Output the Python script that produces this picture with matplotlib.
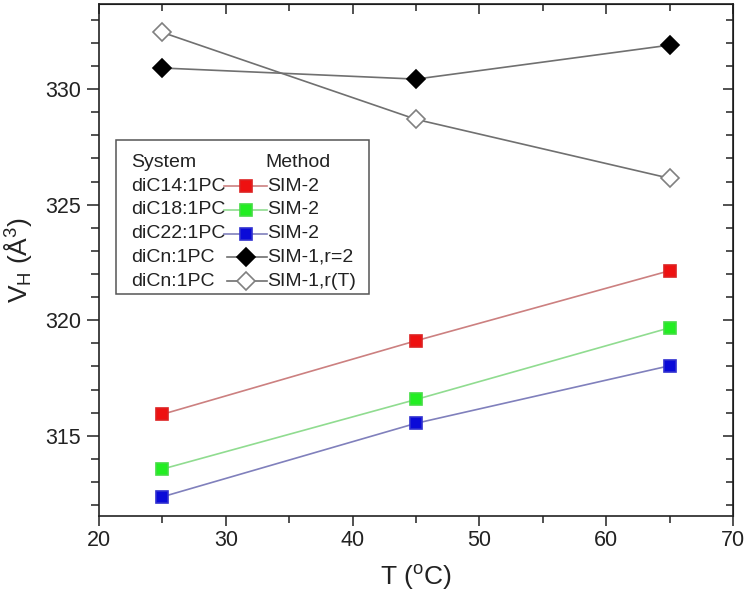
import numpy as np
import matplotlib
matplotlib.use("Agg")
import matplotlib.pyplot as plt
from matplotlib.lines import Line2D
from matplotlib.patches import Rectangle
from matplotlib.ticker import MultipleLocator

# Data
temperature = [25, 45, 65]
systems = ["diC14:1PC", "diC18:1PC", "diC22:1PC", "diCn:1PC", "diCn:1PC"]
methods = ["SIM-2", "SIM-2", "SIM-2", "SIM-1,r=2", "SIM-1,r(T)"]
vh_dic14 = [315.93, 319.11, 322.14]
vh_dic18 = [313.56, 316.57, 319.67]
vh_dic22 = [312.36, 315.54, 318.03]
vh_sim1_r2 = [330.91, 330.43, 331.90]
vh_sim1_rT = [332.45, 328.69, 326.14]

# Styles per series (marker, marker face, marker edge, line colour, size)
styles = [
    dict(marker="s", mfc="#ee1111", mec="#dd2222", color="#cc8080", ms=8),
    dict(marker="s", mfc="#22ee22", mec="#44dd44", color="#90dc90", ms=8),
    dict(marker="s", mfc="#0a0ad8", mec="#3030d0", color="#8080bc", ms=8),
    dict(marker="D", mfc="black", mec="black", color="#707070", ms=9),
    dict(marker="D", mfc="white", mec="#808080", color="#707070", ms=9),
]
series = [vh_dic14, vh_dic18, vh_dic22, vh_sim1_r2, vh_sim1_rT]

plt.rcParams["font.family"] = ["Liberation Sans", "DejaVu Sans"]
plt.rcParams["mathtext.fontset"] = "custom"
plt.rcParams["mathtext.rm"] = "Liberation Sans"
plt.rcParams["mathtext.it"] = "Liberation Sans:italic"

fig = plt.figure(figsize=(7.5, 6.04), dpi=100)
ax = fig.add_axes([0.132, 0.1457, 0.8453, 0.8477])

for vals, st in zip(series, styles):
    ax.plot(temperature, vals, marker=st["marker"], markerfacecolor=st["mfc"],
            markeredgecolor=st["mec"], color=st["color"], markersize=st["ms"],
            linewidth=1.2, markeredgewidth=1.2)

ax.set_xlim(20, 70)
ax.set_ylim(311.53, 333.68)
ax.xaxis.set_major_locator(MultipleLocator(10))
ax.xaxis.set_minor_locator(MultipleLocator(5))
ax.yaxis.set_major_locator(MultipleLocator(5))
ax.yaxis.set_minor_locator(MultipleLocator(1))
ax.tick_params(which="both", direction="out", width=1.1, labelsize=15.5,
               colors="#222222")
ax.tick_params(axis="x", which="major", length=7.5, pad=2.5)
ax.tick_params(axis="x", which="minor", length=5)
ax.tick_params(axis="y", which="major", length=9, pad=4)
ax.tick_params(axis="y", which="minor", length=5.5)
for sp in ax.spines.values():
    sp.set_linewidth(1.2)
    sp.set_color("#222222")

# mirrored ticks on top and right pointing inward
top = ax.secondary_xaxis("top")
top.xaxis.set_major_locator(MultipleLocator(10))
top.xaxis.set_minor_locator(MultipleLocator(5))
top.tick_params(which="both", direction="in", labeltop=False, width=1.1,
                colors="#222222")
top.tick_params(which="major", length=7)
top.tick_params(which="minor", length=5)
right = ax.secondary_yaxis("right")
right.yaxis.set_major_locator(MultipleLocator(5))
right.yaxis.set_minor_locator(MultipleLocator(1))
right.tick_params(which="both", direction="in", labelright=False, width=1.1,
                  colors="#222222")
right.tick_params(which="major", length=7)
right.tick_params(which="minor", length=5)

ax.set_xlabel(r"T ($^{\mathrm{o}}$C)", fontsize=19, color="#222222", labelpad=9)
ax.set_ylabel(r"V$_{\mathrm{H}}$ ($\mathrm{\AA}^{3}$)", fontsize=19,
              color="#222222", labelpad=8)

# Custom legend: System | sample | Method
box = Rectangle((0.0268, 0.434), 0.3990, 0.300, transform=ax.transAxes,
                facecolor="white", edgecolor="#555555", linewidth=1.1, zorder=5)
ax.add_patch(box)
row0 = 0.691
step = 0.0465
ax.text(0.0505, row0, "System", transform=ax.transAxes, fontsize=14,
        va="center", ha="left", color="#222222", zorder=6)
ax.text(0.263, row0, "Method", transform=ax.transAxes, fontsize=14,
        va="center", ha="left", color="#222222", zorder=6)
for i, (sysname, meth, st) in enumerate(zip(systems, methods, styles)):
    y = row0 - (i + 1) * step
    ax.text(0.0505, y, sysname, transform=ax.transAxes, fontsize=14,
            va="center", ha="left", color="#222222", zorder=6)
    ax.text(0.265, y, meth, transform=ax.transAxes, fontsize=14,
            va="center", ha="left", color="#222222", zorder=6)
    x0 = 0.197 if st["marker"] == "s" else 0.202
    ax.add_line(Line2D([x0, 0.265], [y, y], transform=ax.transAxes,
                       color=st["color"], linewidth=1.2, zorder=6))
    ax.add_line(Line2D([0.232], [y], transform=ax.transAxes,
                       marker=st["marker"], markerfacecolor=st["mfc"],
                       markeredgecolor=st["mec"], markersize=st["ms"],
                       markeredgewidth=1.2, linestyle="none", zorder=7))

fig.savefig("out.png", dpi=100)
